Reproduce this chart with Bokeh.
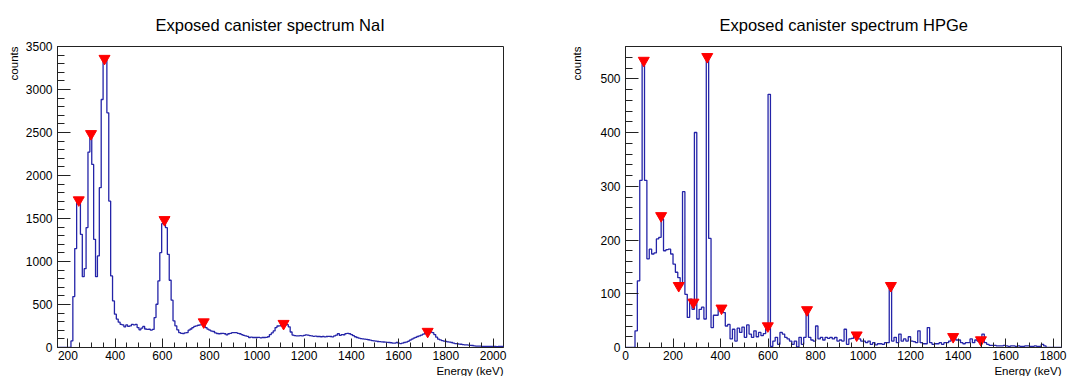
from bokeh.plotting import figure
from bokeh.layouts import row
from bokeh.models import SingleIntervalTicker, Title, Range1d
from bokeh.embed import file_html
from bokeh.resources import INLINE

# ---------------- data ----------------
# NaI spectrum: 8 keV bins starting at 157 keV
nai_start = 157
nai_width = 8
nai_counts = [
    0, 0, 0, 0, 0, 0, 0,
    77, 592, 1150, 1742, 1742, 1316, 824, 917, 1394, 2272,
    2458, 2129, 1258, 824, 1065, 1858, 2884, 3348, 3348, 2729,
    1703, 832, 542, 387,
    330, 295, 270, 262, 240, 262, 245, 252, 270, 262,
    268, 232, 205, 225, 245, 215, 210, 212, 201, 210,
    348, 503, 774, 1103, 1440, 1478, 1393, 1084, 782, 550, 310, 252, 205,
    174, 165, 163, 170, 174, 201, 215, 232, 245, 252,
    259, 263, 268, 263, 232, 213, 201, 190, 186, 170,
    163, 160, 163, 165, 160, 147, 160, 165, 172, 174,
    172, 165, 160, 150, 140, 135, 130, 116, 120, 116,
    116, 116, 118, 112, 116, 116, 118, 125, 150, 170,
    193, 232, 250, 252,
    262, 265, 263, 265, 240, 180, 145, 138, 135, 135,
    138, 135, 140, 147, 145, 138, 135, 130, 132, 128,
    128, 125, 128, 124, 128, 130, 128, 124, 135, 143,
    162, 140, 150, 148, 162, 165, 160, 150, 138, 125,
    116, 110, 104, 100, 97, 95, 90, 85, 80, 77,
    74, 70, 68, 66, 64, 62, 60, 58, 55, 50,
    52, 58, 50, 46, 52, 58, 62, 72, 85, 97,
    108, 118, 128, 135, 145, 155, 165, 174, 178, 180,
    172, 150, 120, 97, 88, 80, 75, 70, 66, 62,
    58, 52, 46, 44, 40, 38, 34, 31, 30, 28,
    25, 23, 20, 17, 15, 16, 14, 13, 12, 12,
    12, 13, 12, 12, 11, 12, 12, 12,
]
nai_peak_energy = [246, 298, 355, 609, 775, 1113, 1723]
nai_peak_counts = [1715, 2485, 3360, 1485, 296, 278, 186]

# HPGe spectrum: 10 keV bins starting at 0 keV
hpge_start = 0
hpge_width = 10
hpge_counts = [
    0, 0, 0, 0, 31, 124, 311, 537, 311, 165,
    183, 174, 176, 202, 205, 239, 180, 182, 183, 174,
    155, 140, 130, 115, 290, 99, 56, 90, 71, 400,
    53, 71, 75, 53, 540, 203, 37, 60, 60, 78,
    71, 65, 40, 43, 16, 34, 12, 36, 28, 38,
    19, 42, 25, 19, 31, 20, 28, 22, 26, 35,
    471, 2, 12, 19, 6, 28, 25, 19, 16, 12,
    6, 12, 1, 19, 6, 19, 65, 19, 14, 12,
    40, 16, 19, 14, 19, 17, 19, 16, 19, 12,
    14, 12, 34, 6, 16, 17, 22, 22, 16, 12,
    12, 9, 12, 6, 9, 5, 7, 7, 6, 9,
    9, 115, 12, 19, 9, 25, 12, 16, 12, 20,
    12, 11, 9, 31, 9, 7, 7, 37, 9, 6,
    7, 7, 9, 6, 9, 9, 12, 19, 17, 14,
    14, 9, 7, 9, 9, 16, 9, 14, 12, 12,
    25, 9, 6, 4, 4, 4, 3, 3, 3, 4,
    3, 2, 3, 3, 2, 3, 2, 2, 3, 3,
    2, 2, 3, 2, 2, 6, 3, 0, 0, 0,
    0, 0, 0, 0,
]
hpge_peak_energy = [77, 150, 224, 286, 344, 404, 599, 764, 973, 1117, 1379, 1496]
hpge_peak_counts = [534, 245, 115, 84, 541, 73, 40, 70, 23, 115, 20, 14]

FONT = "Liberation Sans"
LINE = "#2424a8"


def spectrum_figure(title, counts, start, width, x_lo, x_hi, y_hi, y_step,
                    peak_e, peak_c, fig_w, b_left, b_right, title_offset, ylab_standoff):
    p = figure(width=fig_w, height=376, output_backend="svg", toolbar_location=None,
               x_range=Range1d(x_lo, x_hi), y_range=Range1d(0, y_hi),
               min_border_left=b_left, min_border_right=b_right,
               min_border_top=46, min_border_bottom=29)
    p.title.text = title
    p.title.align = "left"
    p.title.offset = title_offset
    p.title.text_font = FONT
    p.title.text_font_size = "16.5px"
    p.title.text_font_style = "normal"
    p.title.text_color = "#000000"
    p.title.standoff = 26

    edges = [start + i * width for i in range(len(counts) + 1)]
    heights = list(counts) + [counts[-1]]
    p.step(edges, heights, mode="after", line_color=LINE, line_width=1.3)
    p.scatter(peak_e, peak_c, marker="inverted_triangle", size=11,
              fill_color="#ff0000", line_color="#ff0000")

    p.xgrid.visible = False
    p.ygrid.visible = False
    p.outline_line_color = "#222222"
    p.outline_line_width = 1

    xa = p.xaxis[0]
    xa.ticker = SingleIntervalTicker(interval=200, num_minor_ticks=4)
    xa.major_tick_in = 9
    xa.major_tick_out = 0
    xa.minor_tick_in = 5
    xa.minor_tick_out = 0
    xa.major_label_standoff = 3

    ya = p.yaxis[0]
    ya.ticker = SingleIntervalTicker(interval=y_step, num_minor_ticks=5)
    ya.major_tick_in = 13
    ya.major_tick_out = 0
    ya.minor_tick_in = 7
    ya.minor_tick_out = 0
    ya.major_label_standoff = 5

    for ax in (xa, ya):
        ax.major_label_text_font = FONT
        ax.major_label_text_font_size = "12px"
        ax.major_label_text_color = "#000000"
        ax.axis_line_color = "#222222"
        ax.major_tick_line_color = "#222222"
        ax.minor_tick_line_color = "#222222"

    p.add_layout(Title(text="Energy (keV)", align="right", text_font=FONT,
                       text_font_size="11.5px", text_font_style="normal",
                       text_color="#000000", standoff=0), "below")
    p.add_layout(Title(text="counts", align="right", text_font=FONT,
                       text_font_size="11.5px", text_font_style="normal",
                       text_color="#000000", standoff=ylab_standoff), "left")
    return p


p1 = spectrum_figure("Exposed canister spectrum NaI", nai_counts, nai_start, nai_width,
                     156, 2044, 3500, 500, nai_peak_energy, nai_peak_counts,
                     540, 57, 37, 98, 5)
p2 = spectrum_figure("Exposed canister spectrum HPGe", hpge_counts, hpge_start, hpge_width,
                     0, 1835, 560, 100, hpge_peak_energy, hpge_peak_counts,
                     535, 85, 14, 94, 30)

layout = row(p1, p2)
open("out.html", "w").write(file_html(layout, INLINE))
